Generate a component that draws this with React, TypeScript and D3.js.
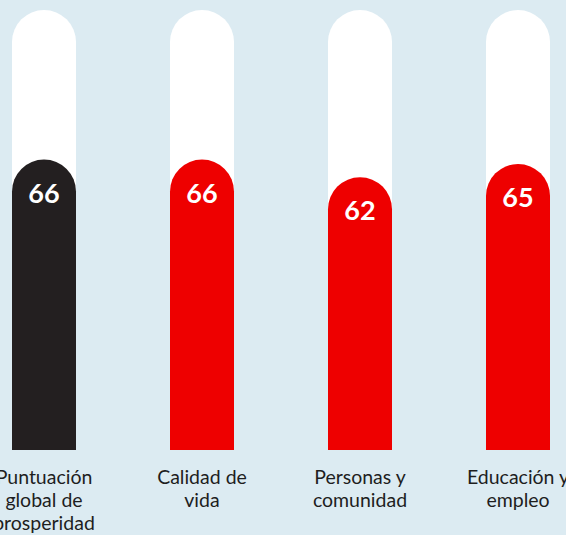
import { useEffect, useRef } from 'react'
import * as d3 from 'd3'

const categories = ['global', 'vida', 'comunidad', 'educacion']
const values = [66, 66, 62, 65]
const labels = [
  ['Puntuación', 'global de', 'prosperidad'],
  ['Calidad de', 'vida'],
  ['Personas y', 'comunidad'],
  ['Educación y', 'empleo'],
]
const fills = ['#231f20', '#ee0000', '#ee0000', '#ee0000']

const width = 566
const height = 535

function roundTop(x0: number, w: number, top: number, bottom: number) {
  const r = w / 2
  const p = d3.path()
  p.moveTo(x0, bottom)
  p.lineTo(x0, top + r)
  p.arc(x0 + r, top + r, r, Math.PI, 2 * Math.PI)
  p.lineTo(x0 + w, bottom)
  p.closePath()
  return p.toString()
}

export default function App() {
  const svgRef = useRef<SVGSVGElement>(null)

  useEffect(() => {
    if (!svgRef.current) return
    const svg = d3.select(svgRef.current)
    svg.selectAll('*').remove()

    const barW = 64
    const x = d3.scalePoint<string>().domain(categories).range([44, 518])
    const y = d3.scaleLinear().domain([0, 100]).range([450, 10])

    svg.append('rect').attr('width', width).attr('height', height).attr('fill', '#dcebf2')

    const g = svg.selectAll('.bar')
      .data(categories)
      .enter()
      .append('g')
      .attr('class', 'bar')

    // white track
    g.append('path')
      .attr('d', d => roundTop(x(d)! - barW / 2, barW, y(100), y(0)))
      .attr('fill', '#ffffff')

    // value fill
    g.append('path')
      .attr('d', (d, i) => roundTop(x(d)! - barW / 2, barW, y(values[i]), y(0)))
      .attr('fill', (d, i) => fills[i])

    g.append('text')
      .attr('x', d => x(d)!)
      .attr('y', (d, i) => y(values[i]) + 43)
      .attr('text-anchor', 'middle')
      .attr('fill', '#ffffff')
      .style('font-family', 'Lato, "Open Sans", sans-serif')
      .style('font-weight', 'bold')
      .style('font-size', '27px')
      .text((d, i) => values[i])

    // category labels
    g.each(function (d, i) {
      const t = d3.select(this).append('text')
        .attr('text-anchor', 'middle')
        .attr('fill', '#1e1e1e')
        .style('font-family', 'Lato, "Open Sans", sans-serif')
        .style('font-size', '19.5px')
      labels[i].forEach((line, j) => {
        t.append('tspan')
          .attr('x', x(d)!)
          .attr('y', 484 + j * 23)
          .text(line)
      })
    })
  }, [])

  return (
    <svg
      ref={svgRef}
      width={width}
      height={height}
      style={{ position: 'absolute', left: 0, top: 0 }}
    />
  )
}
